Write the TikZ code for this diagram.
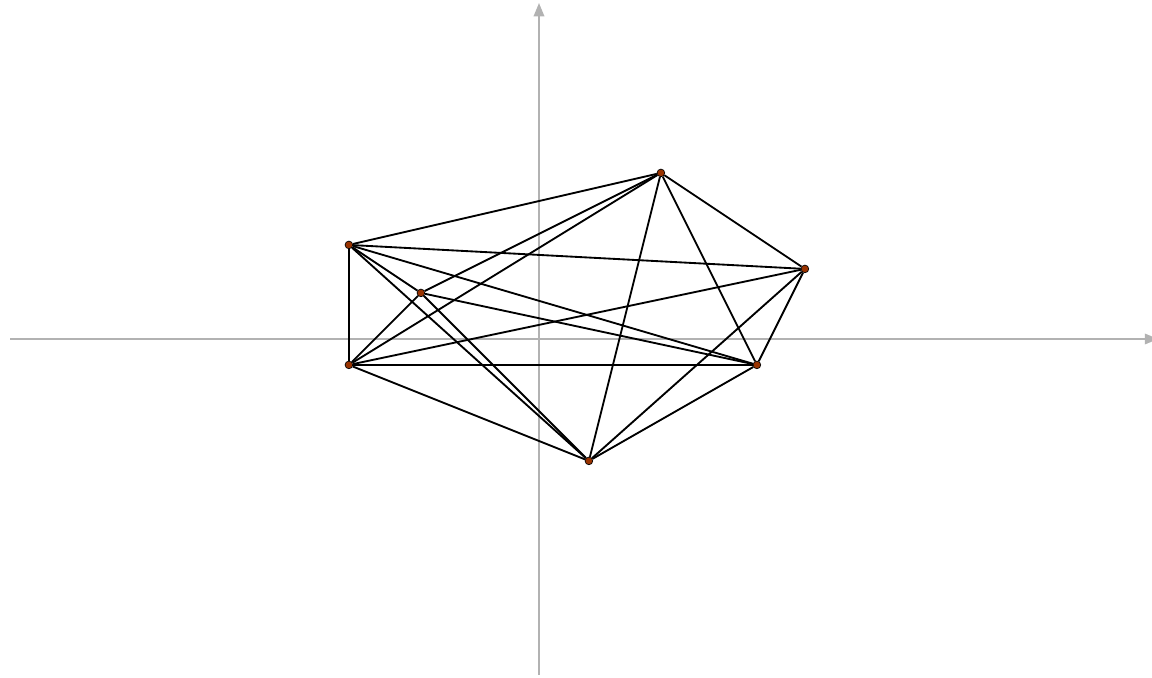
\documentclass[tikz,border=0pt]{standalone}
\usepackage{xcolor}
\usepackage{tikz}
\usetikzlibrary{arrows.meta}
\definecolor{axisgray}{RGB}{178,178,178}
\definecolor{pointbrown}{RGB}{153,51,0}

\begin{document}
\begin{tikzpicture}[
    axis/.style={draw=axisgray, line width=1.1pt, -{Triangle[length=0.28cm, width=0.22cm]}},
    pt/.style={circle, draw=black, fill=pointbrown, line width=0.4pt, inner sep=0pt, minimum size=0.16cm},
    edge/.style={black, line width=1.1pt}
]
\useasboundingbox (-11.229,-7.0625) rectangle (12.771,7.0625);

% Axes
\draw[axis] (-11.02,0) -- (12.9,0);
\draw[axis] (0,-6.99) -- (0,7.0);

% Points
\node[pt] (A) at (-3.96,1.96) {};
\node[pt] (B) at (-2.46,0.96) {};
\node[pt] (C) at (-3.96,-0.54) {};
\node[pt] (D) at (1.04,-2.54) {};
\node[pt] (E) at (4.54,-0.54) {};
\node[pt] (F) at (5.54,1.46) {};
\node[pt] (G) at (2.54,3.46) {};

% Edges
\draw[edge] (A) -- (B);
\draw[edge] (A) -- (C);
\draw[edge] (A) -- (D);
\draw[edge] (A) -- (E);
\draw[edge] (A) -- (F);
\draw[edge] (A) -- (G);
\draw[edge] (B) -- (C);
\draw[edge] (B) -- (D);
\draw[edge] (B) -- (E);
\draw[edge] (B) -- (G);
\draw[edge] (C) -- (D);
\draw[edge] (C) -- (E);
\draw[edge] (C) -- (F);
\draw[edge] (C) -- (G);
\draw[edge] (D) -- (E);
\draw[edge] (D) -- (F);
\draw[edge] (D) -- (G);
\draw[edge] (E) -- (F);
\draw[edge] (E) -- (G);
\draw[edge] (F) -- (G);
\end{tikzpicture}
\end{document}
